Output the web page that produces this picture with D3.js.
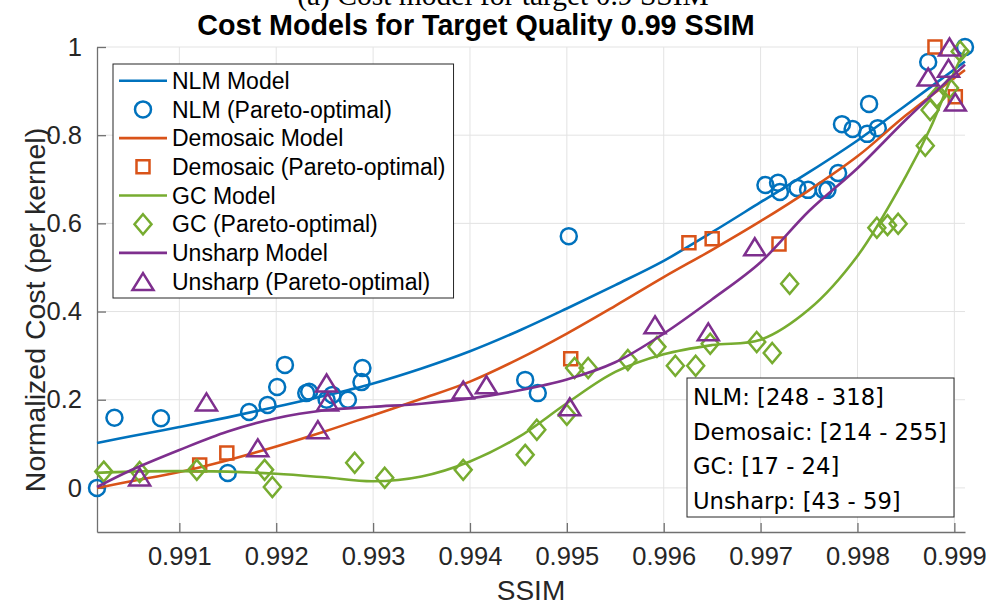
<!DOCTYPE html>
<html>
<head>
<meta charset="utf-8">
<script src="https://cdn.jsdelivr.net/npm/d3@7"></script>
<style>
body { margin: 0; background: #fff; }
svg { display: block; }
</style>
</head>
<body>
<div id="chart"></div>
<script>
'use strict';

// model curves at regular SSIM steps
var ssimGrid = [0.99015, 0.9905, 0.991, 0.9915, 0.992, 0.9925, 0.993, 0.9935, 0.994, 0.9945,
                0.995, 0.9955, 0.996, 0.9965, 0.997, 0.9975, 0.998, 0.9985, 0.99911];
var nlmModel = [0.102, 0.117, 0.138, 0.160, 0.184, 0.209, 0.237, 0.271, 0.310, 0.356,
                0.407, 0.460, 0.515, 0.580, 0.648, 0.716, 0.788, 0.868, 0.967];
var demosaicModel = [0.000, 0.015, 0.036, 0.063, 0.094, 0.128, 0.165, 0.202, 0.241, 0.292,
                     0.350, 0.413, 0.478, 0.540, 0.605, 0.675, 0.752, 0.845, 0.948];
var unsharpModel = [0.002, 0.040, 0.086, 0.128, 0.158, 0.176, 0.184, 0.191, 0.203, 0.221,
                    0.246, 0.285, 0.350, 0.428, 0.512, 0.628, 0.725, 0.835, 0.960];
var gcGrid = [0.99015, 0.9905, 0.991, 0.9915, 0.992, 0.9925, 0.993, 0.9935, 0.994, 0.9945,
              0.995, 0.9955, 0.996, 0.9965, 0.997, 0.9975, 0.998, 0.9985, 0.99875, 0.99895, 0.99911];
var gcModel = [0.034, 0.037, 0.038, 0.037, 0.032, 0.024, 0.015, 0.026, 0.060, 0.115,
               0.192, 0.263, 0.303, 0.324, 0.336, 0.405, 0.526, 0.707, 0.815, 0.920, 0.995];

// pareto-optimal points [ssim, cost]
var nlmPoints = [[0.99015, 0.000], [0.99033, 0.159], [0.99081, 0.158], [0.99150, 0.034],
                 [0.99172, 0.172], [0.99191, 0.188], [0.99201, 0.229], [0.99209, 0.279],
                 [0.99231, 0.215], [0.99234, 0.218], [0.99252, 0.200], [0.99258, 0.211],
                 [0.99274, 0.200], [0.99288, 0.240], [0.99289, 0.272], [0.99457, 0.245],
                 [0.99470, 0.215], [0.99502, 0.571], [0.99705, 0.687], [0.99718, 0.692],
                 [0.99720, 0.671], [0.99738, 0.680], [0.99749, 0.676], [0.99765, 0.676],
                 [0.99769, 0.676], [0.99780, 0.714], [0.99784, 0.825], [0.99795, 0.814],
                 [0.99810, 0.803], [0.99812, 0.871], [0.99821, 0.816], [0.99873, 0.966],
                 [0.99911, 1.000]];
var demosaicPoints = [[0.99121, 0.052], [0.99149, 0.079], [0.99504, 0.293], [0.99626, 0.556],
                      [0.99650, 0.565], [0.99719, 0.553], [0.99880, 1.000], [0.99901, 0.887]];
var gcPoints = [[0.99022, 0.037], [0.99059, 0.036], [0.99118, 0.041], [0.99188, 0.041],
                [0.99196, 0.002], [0.99281, 0.057], [0.99312, 0.023], [0.99393, 0.041],
                [0.99457, 0.075], [0.99469, 0.132], [0.99500, 0.166], [0.99508, 0.272],
                [0.99522, 0.272], [0.99563, 0.290], [0.99593, 0.320], [0.99612, 0.277],
                [0.99633, 0.277], [0.99648, 0.327], [0.99696, 0.331], [0.99712, 0.306],
                [0.99730, 0.463], [0.99820, 0.590], [0.99831, 0.596], [0.99842, 0.599],
                [0.99870, 0.776], [0.99875, 0.857], [0.99882, 0.887], [0.99895, 0.907],
                [0.99906, 0.990]];
var unsharpPoints = [[0.99059, 0.025], [0.99128, 0.195], [0.99181, 0.091], [0.99243, 0.132],
                     [0.99252, 0.238], [0.99253, 0.195], [0.99393, 0.222], [0.99417, 0.234],
                     [0.99503, 0.184], [0.99591, 0.370], [0.99646, 0.354], [0.99694, 0.547],
                     [0.99873, 0.932], [0.99895, 1.000], [0.99894, 0.952], [0.99901, 0.875]];

var xTicks = [0.991, 0.992, 0.993, 0.994, 0.995, 0.996, 0.997, 0.998, 0.999];
var xTickLabels = ['0.991', '0.992', '0.993', '0.994', '0.995', '0.996', '0.997', '0.998', '0.999'];
var yTicks = [0, 0.2, 0.4, 0.6, 0.8, 1];
var yTickLabels = ['0', '0.2', '0.4', '0.6', '0.8', '1'];

var legendLabels = ['NLM Model', 'NLM (Pareto-optimal)', 'Demosaic Model', 'Demosaic (Pareto-optimal)',
                    'GC Model', 'GC (Pareto-optimal)', 'Unsharp Model', 'Unsharp (Pareto-optimal)'];
var rangeLines = ['NLM: [248 - 318]', 'Demosaic: [214 - 255]', 'GC: [17 - 24]', 'Unsharp: [43 - 59]'];

var colors = {nlm: '#0072BD', demosaic: '#D95319', gc: '#77AC30', unsharp: '#7E2F8E'};
var sans = "'Liberation Sans', Arial, Helvetica, sans-serif";

var width = 986, height = 606;

var svg = d3.select('#chart')
    .append('svg')
    .attr('width', width)
    .attr('height', height)
    .style('background-color', '#fff');

var x = d3.scaleLinear().domain([0.99015, 0.99911]).range([97, 965]);
var y = d3.scaleLinear().domain([-0.1, 1]).range([532, 47]);

// caption of the figure above, mostly cut off
svg.append('text')
    .attr('x', 503).attr('y', 5)
    .attr('text-anchor', 'middle')
    .style('font-family', "'Liberation Serif', 'Times New Roman', serif")
    .style('font-size', '29.5px')
    .text('(a) Cost model for target 0.9 SSIM');

// grid
var grid = svg.append('g').attr('class', 'grid');
grid.selectAll('.gx').data(xTicks).enter().append('line')
    .attr('x1', function(d) { return x(d); }).attr('x2', function(d) { return x(d); })
    .attr('y1', y(-0.1)).attr('y2', y(1))
    .attr('stroke', '#e3e3e3').attr('stroke-width', 1);
grid.selectAll('.gy').data(yTicks).enter().append('line')
    .attr('x1', x.range()[0]).attr('x2', x.range()[1])
    .attr('y1', function(d) { return y(d); }).attr('y2', function(d) { return y(d); })
    .attr('stroke', '#e3e3e3').attr('stroke-width', 1);

// axes
var xAxis = d3.axisBottom(x)
    .tickValues(xTicks)
    .tickFormat(function(d, i) { return xTickLabels[i]; })
    .tickSize(-9).tickSizeOuter(0).tickPadding(15);
var yAxis = d3.axisLeft(y)
    .tickValues(yTicks)
    .tickFormat(function(d, i) { return yTickLabels[i]; })
    .tickSize(-9).tickSizeOuter(0).tickPadding(15);

var gx = svg.append('g').attr('transform', 'translate(0,' + y(-0.1) + ')').call(xAxis);
var gy = svg.append('g').attr('transform', 'translate(' + x(0.99015) + ',0)').call(yAxis);
[gx, gy].forEach(function(g) {
    g.select('.domain').attr('stroke', '#707070').attr('stroke-width', 1.3);
    g.selectAll('.tick line').attr('stroke', '#707070').attr('stroke-width', 1.3);
    g.selectAll('.tick text')
        .attr('fill', '#262626')
        .style('font-family', sans)
        .style('font-size', '25.5px');
});

// series
var line = d3.line()
    .x(function(d) { return x(d[0]); })
    .y(function(d) { return y(d[1]); })
    .curve(d3.curveCatmullRom.alpha(0.5));

function zip(xs, ys) {
    return xs.map(function(v, i) { return [v, ys[i]]; });
}

var markerPaths = {
    square: 'M-6.5,-6.5H6.5V6.5H-6.5Z',
    diamond: 'M0,-10L8.5,0L0,10L-8.5,0Z',
    triangle: 'M0,-8.5L10.5,8.5L-10.5,8.5Z'
};

function drawMarkers(g, pts, shape, color) {
    if (shape === 'circle') {
        g.selectAll('circle').data(pts).enter().append('circle')
            .attr('cx', function(d) { return x(d[0]); })
            .attr('cy', function(d) { return y(d[1]); })
            .attr('r', 8)
            .attr('fill', 'none').attr('stroke', color).attr('stroke-width', 2.5);
    } else {
        g.selectAll('path').data(pts).enter().append('path')
            .attr('d', markerPaths[shape])
            .attr('transform', function(d) { return 'translate(' + x(d[0]) + ',' + y(d[1]) + ')'; })
            .attr('fill', 'none').attr('stroke', color).attr('stroke-width', 2.5)
            .attr('stroke-linejoin', 'miter');
    }
}

var series = [
    {model: zip(ssimGrid, nlmModel), pts: nlmPoints, shape: 'circle', color: colors.nlm},
    {model: zip(ssimGrid, demosaicModel), pts: demosaicPoints, shape: 'square', color: colors.demosaic},
    {model: zip(gcGrid, gcModel), pts: gcPoints, shape: 'diamond', color: colors.gc},
    {model: zip(ssimGrid, unsharpModel), pts: unsharpPoints, shape: 'triangle', color: colors.unsharp}
];

series.forEach(function(s) {
    svg.append('path')
        .datum(s.model)
        .attr('d', line)
        .attr('fill', 'none')
        .attr('stroke', s.color)
        .attr('stroke-width', 2.6);
    drawMarkers(svg.append('g'), s.pts, s.shape, s.color);
});

// title and axis labels
svg.append('text')
    .attr('x', 476).attr('y', 35)
    .attr('text-anchor', 'middle')
    .style('font-family', sans).style('font-weight', 'bold').style('font-size', '28.7px')
    .text('Cost Models for Target Quality 0.99 SSIM');

svg.append('text')
    .attr('x', 531).attr('y', 600)
    .attr('text-anchor', 'middle')
    .attr('fill', '#262626')
    .style('font-family', sans).style('font-size', '28px')
    .text('SSIM');

svg.append('text')
    .attr('transform', 'translate(45,310) rotate(-90)')
    .attr('text-anchor', 'middle')
    .attr('fill', '#262626')
    .style('font-family', sans).style('font-size', '28.5px')
    .text('Normalized Cost (per kernel)');

// legend
var legend = svg.append('g').attr('transform', 'translate(113,64)');
var legendBox = legend.append('rect')
    .attr('x', 0).attr('y', 0).attr('height', 234)
    .attr('fill', '#fff').attr('stroke', '#262626').attr('stroke-width', 1);

var rowH = 28.7;
var items = legend.selectAll('.item').data(legendLabels).enter().append('g')
    .attr('transform', function(d, i) { return 'translate(0,' + (16.7 + i * rowH) + ')'; });

items.each(function(d, i) {
    var g = d3.select(this);
    var s = series[Math.floor(i / 2)];
    if (i % 2 === 0) {
        g.append('line').attr('x1', 6).attr('x2', 54).attr('y1', 0).attr('y2', 0)
            .attr('stroke', s.color).attr('stroke-width', 2.6);
    } else if (s.shape === 'circle') {
        g.append('circle').attr('cx', 30).attr('cy', 0).attr('r', 8)
            .attr('fill', 'none').attr('stroke', s.color).attr('stroke-width', 2.5);
    } else {
        g.append('path').attr('d', markerPaths[s.shape]).attr('transform', 'translate(30,0)')
            .attr('fill', 'none').attr('stroke', s.color).attr('stroke-width', 2.5);
    }
    g.append('text')
        .attr('x', 59).attr('y', 8.2)
        .style('font-family', sans).style('font-size', '23px')
        .text(d);
});

var maxW = 0;
items.selectAll('text').each(function() { maxW = Math.max(maxW, this.getComputedTextLength()); });
legendBox.attr('width', 59 + maxW + 8);

// range annotation
var note = svg.append('g').attr('transform', 'translate(687,378)');
note.append('rect')
    .attr('width', 267).attr('height', 139)
    .attr('fill', '#fff').attr('stroke', '#262626').attr('stroke-width', 1);
note.selectAll('text').data(rangeLines).enter().append('text')
    .attr('x', 6)
    .attr('y', function(d, i) { return 27 + i * 34.7; })
    .style('font-family', "'DejaVu Sans', Verdana, sans-serif")
    .style('font-size', '22.7px')
    .text(function(d) { return d; });
</script>
</body>
</html>
